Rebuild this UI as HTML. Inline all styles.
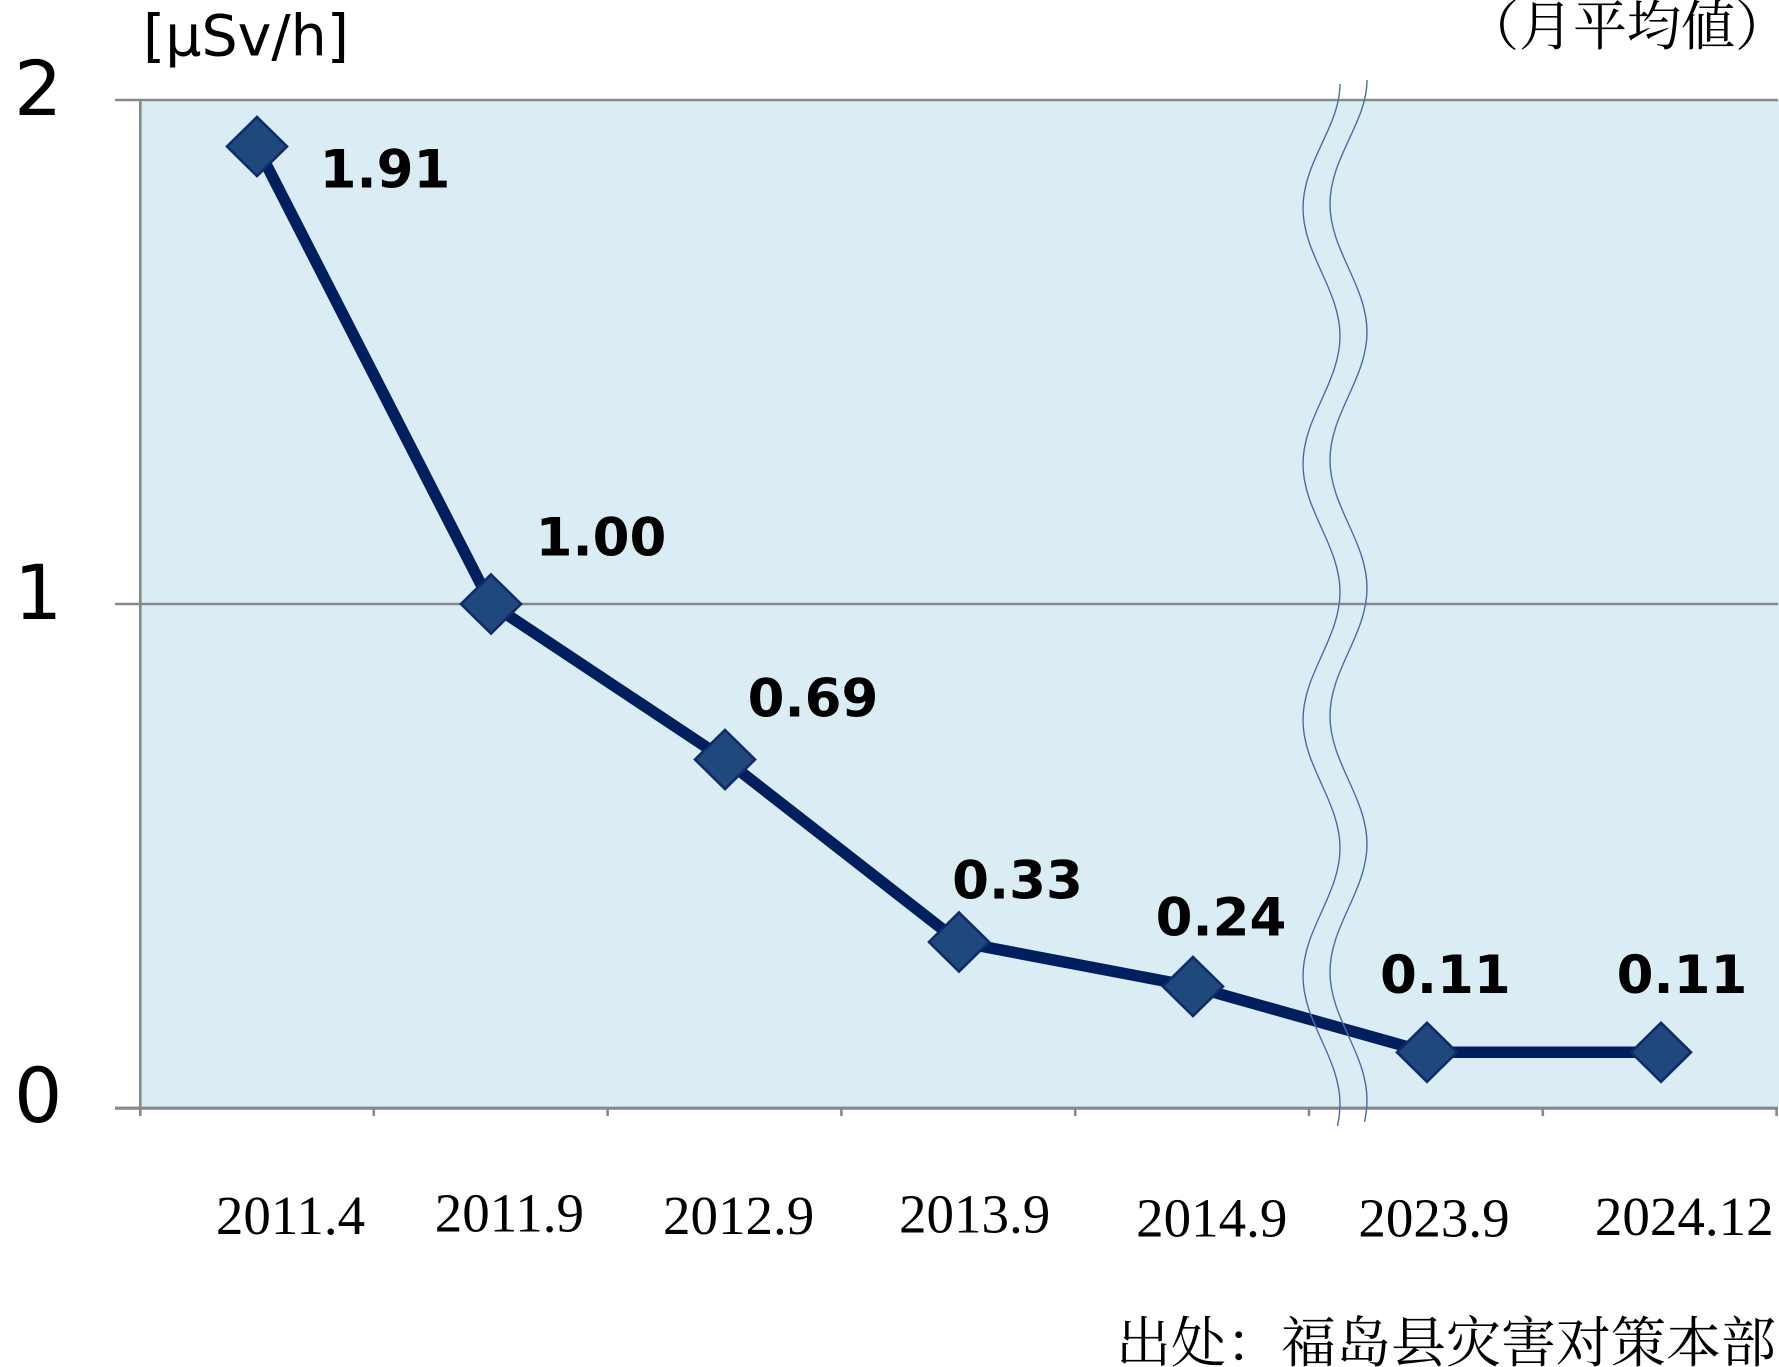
<!DOCTYPE html>
<html>
<head>
<meta charset="utf-8">
<style>
  html, body { margin: 0; padding: 0; background: #ffffff; }
  svg { display: block; }
</style>
</head>
<body>
<svg width="1779" height="1367" viewBox="0 0 1779 1367" xmlns="http://www.w3.org/2000/svg">
  <!-- plot background -->
  <rect x="140" y="100" width="1639" height="1008" fill="#DAECF4"/>

  <!-- gridlines -->
  <line x1="115" y1="100" x2="1778" y2="100" stroke="#888888" stroke-width="2.6"/>
  <line x1="115" y1="604" x2="1778" y2="604" stroke="#888888" stroke-width="2.6"/>
  <!-- left axis -->
  <line x1="140.3" y1="99" x2="140.3" y2="1116" stroke="#888888" stroke-width="2.6"/>
  <!-- bottom axis -->
  <line x1="115" y1="1108.2" x2="1778" y2="1108.2" stroke="#888888" stroke-width="3.2"/>
  <!-- ticks -->
  <g stroke="#888888" stroke-width="2.6">
    <line x1="373.8" y1="1108" x2="373.8" y2="1116"/>
    <line x1="607.6" y1="1108" x2="607.6" y2="1116"/>
    <line x1="841.4" y1="1108" x2="841.4" y2="1116"/>
    <line x1="1075.2" y1="1108" x2="1075.2" y2="1116"/>
    <line x1="1309" y1="1108" x2="1309" y2="1116"/>
    <line x1="1542.8" y1="1108" x2="1542.8" y2="1116"/>
    <line x1="1776.6" y1="1108" x2="1776.6" y2="1116"/>
  </g>

  <!-- data line -->
  <polyline fill="none" stroke="#001F5F" stroke-width="11.5" stroke-linejoin="round"
    points="257,146.5 491,604 725,759.5 959,942 1193,986.5 1427,1052.3 1661,1052.3"/>

  <!-- break wavy lines (drawn over the data line) -->
  <g fill="none" stroke="#4A6DA8" stroke-width="1.4">
    <path d="M1340,84 C1340,126.6 1303,161.4 1303,208 S1340,289.4 1340,336 S1303,417.4 1303,464 S1340,545.4 1340,592 S1303,673.4 1303,720 S1340,801.4 1340,848 S1303,929.4 1303,976 S1340,1057.4 1340,1104 Q1340,1114 1337.5,1126"/>
    <path transform="translate(27,-4)" d="M1340,84 C1340,126.6 1303,161.4 1303,208 S1340,289.4 1340,336 S1303,417.4 1303,464 S1340,545.4 1340,592 S1303,673.4 1303,720 S1340,801.4 1340,848 S1303,929.4 1303,976 S1340,1057.4 1340,1104 Q1340,1114 1337.5,1126"/>
  </g>

  <!-- markers -->
  <g fill="#1F487C" stroke="#0E2B6A" stroke-width="2.6" stroke-linejoin="miter">
    <path d="M257,117 L287,146.5 L257,176 L227,146.5 Z"/>
    <path d="M491,574.5 L521,604 L491,633.5 L461,604 Z"/>
    <path d="M725,730 L755,759.5 L725,789 L695,759.5 Z"/>
    <path d="M959,912.5 L989,942 L959,971.5 L929,942 Z"/>
    <path d="M1193,957 L1223,986.5 L1193,1016 L1163,986.5 Z"/>
    <path d="M1427,1022.8 L1457,1052.3 L1427,1081.8 L1397,1052.3 Z"/>
    <path d="M1661,1022.8 L1691,1052.3 L1661,1081.8 L1631,1052.3 Z"/>
  </g>

  <!-- data labels -->
  <g font-family="'DejaVu Sans', 'Liberation Sans', sans-serif" font-weight="bold" font-size="53" fill="#000000" text-anchor="middle">
    <text x="385" y="187.3">1.91</text>
    <text x="601" y="555.7">1.00</text>
    <text x="813" y="716.5">0.69</text>
    <text x="1017.5" y="898.3">0.33</text>
    <text x="1221" y="935.5">0.24</text>
    <text x="1445.4" y="993">0.11</text>
    <text x="1682" y="993">0.11</text>
  </g>

  <!-- y tick labels -->
  <g font-family="'DejaVu Sans', 'Liberation Sans', sans-serif" font-size="76" fill="#000000">
    <text x="14" y="115">2</text>
    <text x="14" y="619">1</text>
    <text x="14" y="1122">0</text>
  </g>

  <!-- unit label -->
  <text x="143" y="55.5" font-family="'DejaVu Sans', 'Liberation Sans', sans-serif" font-size="57" fill="#000000">[μSv/h]</text>

  <!-- monthly average label -->
  <text x="1465" y="45" font-family="'Liberation Serif', 'Noto Serif CJK JP', 'Noto Serif CJK SC', serif" font-size="54" fill="#000000">（月平均値）</text>

  <!-- x labels -->
  <g font-family="'Liberation Serif', serif" font-size="55" fill="#000000" text-anchor="middle">
    <text x="290.5" y="1234">2011.4</text>
    <text x="509.4" y="1231.7">2011.9</text>
    <text x="738.6" y="1234">2012.9</text>
    <text x="974.6" y="1232.3">2013.9</text>
    <text x="1211.7" y="1236.7">2014.9</text>
    <text x="1434" y="1236.7">2023.9</text>
    <text x="1684.2" y="1235">2024.12</text>
  </g>

  <!-- source -->
  <text x="1776" y="1362" text-anchor="end" font-family="'Liberation Serif', 'Noto Serif CJK SC', serif" font-size="55" fill="#000000">出处：福岛县灾害对策本部</text>
</svg>
</body>
</html>
